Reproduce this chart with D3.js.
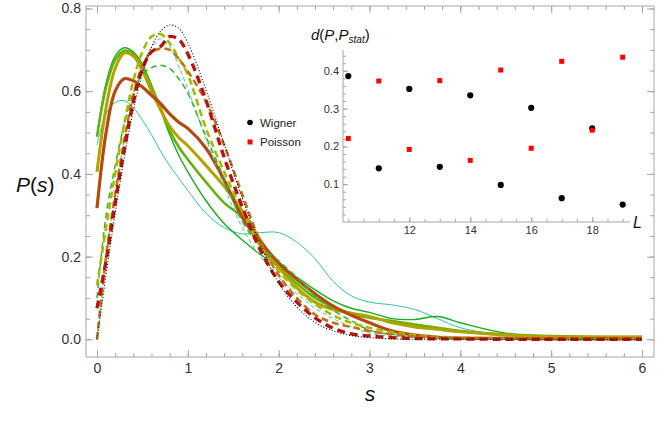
<!DOCTYPE html>
<html>
<head>
<meta charset="utf-8">
<script src="https://cdnjs.cloudflare.com/ajax/libs/d3/7.8.5/d3.min.js"></script>
<style>
  body { margin: 0; background: #fff; }
  svg { display: block; font-family: "Liberation Sans", Arial, sans-serif; }
</style>
</head>
<body>
<div id="chart"></div>
<script>
// level spacing s, shared by every curve
var sGrid = [0, 0.1, 0.2, 0.3, 0.4, 0.5, 0.6, 0.7, 0.8, 0.9, 1.0, 1.2, 1.4, 1.6, 1.8, 2.0,
             2.2, 2.4, 2.6, 2.8, 3.0, 3.25, 3.5, 3.75, 4.0, 4.5, 5.0, 5.5, 6.0];

// P(s)
var wignerCurve   = [0, 0.156, 0.305, 0.439, 0.553, 0.643, 0.707, 0.745, 0.760, 0.752, 0.717, 0.603, 0.472, 0.341, 0.229, 0.136, 0.078, 0.041, 0.020, 0.009, 0.004, 0.001, 0, 0, 0, 0, 0, 0, 0];
var redDashed     = [0.075, 0.19, 0.33, 0.46, 0.575, 0.655, 0.695, 0.708, 0.732, 0.725, 0.69, 0.578, 0.44, 0.32, 0.215, 0.14, 0.09, 0.052, 0.027, 0.013, 0.008, 0.004, 0.002, 0.001, 0.001, 0, 0, 0, 0];
var orangeDashed  = [0.0, 0.2, 0.35, 0.48, 0.59, 0.66, 0.695, 0.703, 0.70, 0.678, 0.648, 0.575, 0.47, 0.35, 0.235, 0.155, 0.1, 0.06, 0.04, 0.03, 0.02, 0.012, 0.007, 0.004, 0.003, 0.002, 0.002, 0.002, 0.002];
var limeDashed    = [0.13, 0.27, 0.40, 0.52, 0.625, 0.695, 0.732, 0.738, 0.716, 0.68, 0.64, 0.51, 0.405, 0.31, 0.225, 0.165, 0.12, 0.085, 0.058, 0.04, 0.028, 0.017, 0.01, 0.006, 0.004, 0.003, 0.002, 0.002, 0.002];
var greenDashed   = [0.1, 0.3, 0.42, 0.52, 0.595, 0.64, 0.657, 0.663, 0.655, 0.63, 0.595, 0.49, 0.39, 0.285, 0.225, 0.19, 0.15, 0.105, 0.07, 0.045, 0.022, 0.012, 0.006, 0.004, 0.003, 0.002, 0.002, 0.002, 0.002];
var tealDashed    = [0.0, 0.2, 0.35, 0.48, 0.585, 0.66, 0.705, 0.727, 0.708, 0.66, 0.605, 0.485, 0.37, 0.27, 0.2, 0.15, 0.11, 0.075, 0.05, 0.03, 0.015, 0.008, 0.005, 0.003, 0.002, 0.001, 0.001, 0.001, 0.001];
var tealSolid     = [0.47, 0.545, 0.573, 0.577, 0.56, 0.53, 0.495, 0.455, 0.42, 0.39, 0.36, 0.305, 0.27, 0.255, 0.258, 0.258, 0.235, 0.195, 0.14, 0.105, 0.09, 0.083, 0.072, 0.05, 0.028, 0.01, 0.004, 0.002, 0.002];
var greenSolid    = [0.49, 0.62, 0.685, 0.705, 0.695, 0.665, 0.615, 0.555, 0.495, 0.445, 0.405, 0.335, 0.28, 0.24, 0.205, 0.175, 0.15, 0.12, 0.093, 0.075, 0.065, 0.05, 0.048, 0.055, 0.04, 0.015, 0.008, 0.006, 0.006];
var limeSolid     = [0.49, 0.61, 0.675, 0.698, 0.69, 0.66, 0.61, 0.56, 0.505, 0.465, 0.435, 0.38, 0.33, 0.295, 0.225, 0.175, 0.135, 0.1, 0.078, 0.062, 0.052, 0.044, 0.036, 0.028, 0.02, 0.012, 0.008, 0.006, 0.006];
var oliveSolid    = [0.405, 0.56, 0.655, 0.692, 0.685, 0.65, 0.6, 0.555, 0.515, 0.488, 0.468, 0.42, 0.37, 0.31, 0.24, 0.175, 0.125, 0.09, 0.072, 0.063, 0.055, 0.04, 0.03, 0.024, 0.018, 0.01, 0.006, 0.005, 0.005];
var brownSolid    = [0.317, 0.50, 0.60, 0.63, 0.625, 0.61, 0.59, 0.57, 0.545, 0.525, 0.51, 0.462, 0.385, 0.295, 0.235, 0.185, 0.145, 0.11, 0.08, 0.058, 0.04, 0.02, 0.01, 0.005, 0.003, 0.002, 0.001, 0.001, 0.001];

// inset: distance to the stationary distributions vs L
var insetL       = [10, 11, 12, 13, 14, 15, 16, 17, 18, 19];
var insetWigner  = [0.386, 0.142, 0.352, 0.146, 0.335, 0.098, 0.302, 0.063, 0.248, 0.046];
var insetPoisson = [0.221, 0.373, 0.192, 0.374, 0.163, 0.402, 0.195, 0.425, 0.243, 0.436];

var xTicks = [0, 1, 2, 3, 4, 5, 6];
var yTicks = [0, 0.2, 0.4, 0.6, 0.8];
var insetXTicks = [12, 14, 16, 18];
var insetYTicks = [0.1, 0.2, 0.3, 0.4];
var legendLabels = ["Wigner", "Poisson"];

var W = 664, H = 437;
var frameCol = "#a6a6a6", labelCol = "#333";

var svg = d3.select("#chart").append("svg").attr("width", W).attr("height", H);

// ---- main plot ----
var x = d3.scaleLinear().domain([-0.121, 6.132]).range([86, 654]);
var y = d3.scaleLinear().domain([-0.0428, 0.806]).range([357, 6]);

function range(a, b, step) {
  var out = [];
  for (var v = a; v <= b + 1e-9; v += step) out.push(+v.toFixed(4));
  return out;
}

function styleAxis(g) {
  g.selectAll("path.domain").remove();
  g.selectAll("line").attr("stroke", frameCol);
  g.selectAll("text").attr("fill", labelCol);
}

var frame = svg.append("g");
frame.append("rect")
  .attr("x", 86).attr("y", 6).attr("width", 654 - 86).attr("height", 357 - 6)
  .attr("fill", "none").attr("stroke", frameCol).attr("stroke-width", 1);

// bottom / top
frame.append("g").attr("transform", "translate(0,357)")
  .call(d3.axisBottom(x).tickValues(xTicks).tickSize(-7).tickPadding(6).tickFormat(d3.format("d")))
  .call(styleAxis).selectAll("text").style("font-size", "14px");
frame.append("g").attr("transform", "translate(0,357)")
  .call(d3.axisBottom(x).tickValues(range(0, 6, 0.2)).tickSize(-4).tickFormat(""))
  .call(styleAxis);
frame.append("g").attr("transform", "translate(0,6)")
  .call(d3.axisTop(x).tickValues(xTicks).tickSize(-7).tickFormat(""))
  .call(styleAxis);
frame.append("g").attr("transform", "translate(0,6)")
  .call(d3.axisTop(x).tickValues(range(0, 6, 0.2)).tickSize(-4).tickFormat(""))
  .call(styleAxis);

// left / right
frame.append("g").attr("transform", "translate(86,0)")
  .call(d3.axisLeft(y).tickValues(yTicks).tickSize(-7).tickPadding(5).tickFormat(d3.format(".1f")))
  .call(styleAxis).selectAll("text").style("font-size", "14px");
frame.append("g").attr("transform", "translate(86,0)")
  .call(d3.axisLeft(y).tickValues(range(0, 0.8, 0.05)).tickSize(-4).tickFormat(""))
  .call(styleAxis);
frame.append("g").attr("transform", "translate(654,0)")
  .call(d3.axisRight(y).tickValues(yTicks).tickSize(-7).tickFormat(""))
  .call(styleAxis);
frame.append("g").attr("transform", "translate(654,0)")
  .call(d3.axisRight(y).tickValues(range(0, 0.8, 0.05)).tickSize(-4).tickFormat(""))
  .call(styleAxis);

// axis labels
var pl = svg.append("text").attr("x", 16).attr("y", 192).attr("fill", "#111").style("font-size", "21px");
pl.append("tspan").style("font-style", "italic").text("P");
pl.append("tspan").text("(");
pl.append("tspan").style("font-style", "italic").text("s");
pl.append("tspan").text(")");

svg.append("text").attr("x", 370).attr("y", 401).attr("text-anchor", "middle")
  .attr("fill", "#111").style("font-size", "21px").style("font-style", "italic").text("s");

// ---- curves ----
var series = [
  { values: tealSolid,    color: "#2cc79d", width: 1.0, dash: null },
  { values: greenSolid,   color: "#16ae1c", width: 1.4, dash: null },
  { values: limeSolid,    color: "#62b20e", width: 2.6, dash: null },
  { values: oliveSolid,   color: "#b3a100", width: 3.0, dash: null },
  { values: brownSolid,   color: "#b5490f", width: 3.2, dash: null },
  { values: tealDashed,   color: "#35cf96", width: 1.0, dash: "4,3" },
  { values: greenDashed,  color: "#2fb52a", width: 1.5, dash: "6,4" },
  { values: limeDashed,   color: "#a4bb00", width: 2.6, dash: "7,4" },
  { values: orangeDashed, color: "#c0731a", width: 2.6, dash: "7,4" },
  { values: redDashed,    color: "#b8130f", width: 3.4, dash: "8,5" },
  { values: wignerCurve,  color: "#000",    width: 1.1, dash: "1,2" }
];

var line = d3.line()
  .x(function (d) { return x(d[0]); })
  .y(function (d) { return y(d[1]); })
  .curve(d3.curveCatmullRom.alpha(0.5));

var curves = svg.append("g");
series.forEach(function (ser) {
  var pts = sGrid.map(function (s, i) { return [s, ser.values[i]]; });
  curves.append("path")
    .attr("d", line(pts))
    .attr("fill", "none")
    .attr("stroke", ser.color)
    .attr("stroke-width", ser.width)
    .attr("stroke-dasharray", ser.dash);
});

// ---- legend ----
var legend = svg.append("g");
legend.append("circle").attr("cx", 250).attr("cy", 122.5).attr("r", 2.8).attr("fill", "#000");
legend.append("rect").attr("x", 247.5).attr("y", 139.5).attr("width", 5).attr("height", 5).attr("fill", "#f00");
legend.selectAll("text.leg").data(legendLabels).enter().append("text")
  .attr("class", "leg")
  .attr("x", 260).attr("y", function (d, i) { return 126.5 + i * 19.5; })
  .attr("fill", "#222").style("font-size", "11.5px")
  .text(function (d) { return d; });

// ---- inset ----
var ix = d3.scaleLinear().domain([9.826, 19.24]).range([343, 630]);
var iy = d3.scaleLinear().domain([0, 0.455]).range([222, 50]);
var inset = svg.append("g");

inset.append("g").attr("transform", "translate(0,222)")
  .call(d3.axisBottom(ix).tickValues(insetXTicks).tickSize(-5).tickPadding(4).tickFormat(d3.format("d")))
  .call(styleAxis).selectAll("text").style("font-size", "11px");
inset.append("g").attr("transform", "translate(0,222)")
  .call(d3.axisBottom(ix).tickValues(range(10, 19, 0.5)).tickSize(-3).tickFormat(""))
  .call(styleAxis);
inset.append("g").attr("transform", "translate(343,0)")
  .call(d3.axisLeft(iy).tickValues(insetYTicks).tickSize(-5).tickPadding(4).tickFormat(d3.format(".1f")))
  .call(styleAxis).selectAll("text").style("font-size", "11px");
inset.append("g").attr("transform", "translate(343,0)")
  .call(d3.axisLeft(iy).tickValues(range(0.02, 0.44, 0.02)).tickSize(-3).tickFormat(""))
  .call(styleAxis);
inset.append("line").attr("x1", 343).attr("x2", 630).attr("y1", 222).attr("y2", 222).attr("stroke", frameCol);
inset.append("line").attr("x1", 343).attr("x2", 343).attr("y1", 222).attr("y2", 50).attr("stroke", frameCol);

inset.selectAll("circle.w").data(insetL).enter().append("circle")
  .attr("class", "w")
  .attr("cx", function (d) { return ix(d); })
  .attr("cy", function (d, i) { return iy(insetWigner[i]); })
  .attr("r", 3.1).attr("fill", "#000");
inset.selectAll("rect.p").data(insetL).enter().append("rect")
  .attr("class", "p")
  .attr("x", function (d) { return ix(d) - 2.5; })
  .attr("y", function (d, i) { return iy(insetPoisson[i]) - 2.5; })
  .attr("width", 5).attr("height", 5).attr("fill", "#f00");

var dl = inset.append("text").attr("x", 311).attr("y", 40).attr("fill", "#111").style("font-size", "15px");
dl.append("tspan").style("font-style", "italic").text("d");
dl.append("tspan").text("(");
dl.append("tspan").style("font-style", "italic").text("P");
dl.append("tspan").text(",");
dl.append("tspan").style("font-style", "italic").text("P");
dl.append("tspan").style("font-style", "italic").style("font-size", "10px").attr("dy", 3).text("stat");
dl.append("tspan").attr("dy", -3).text(")");

inset.append("text").attr("x", 633).attr("y", 228).attr("fill", "#111")
  .style("font-size", "16px").style("font-style", "italic").text("L");
</script>
</body>
</html>
